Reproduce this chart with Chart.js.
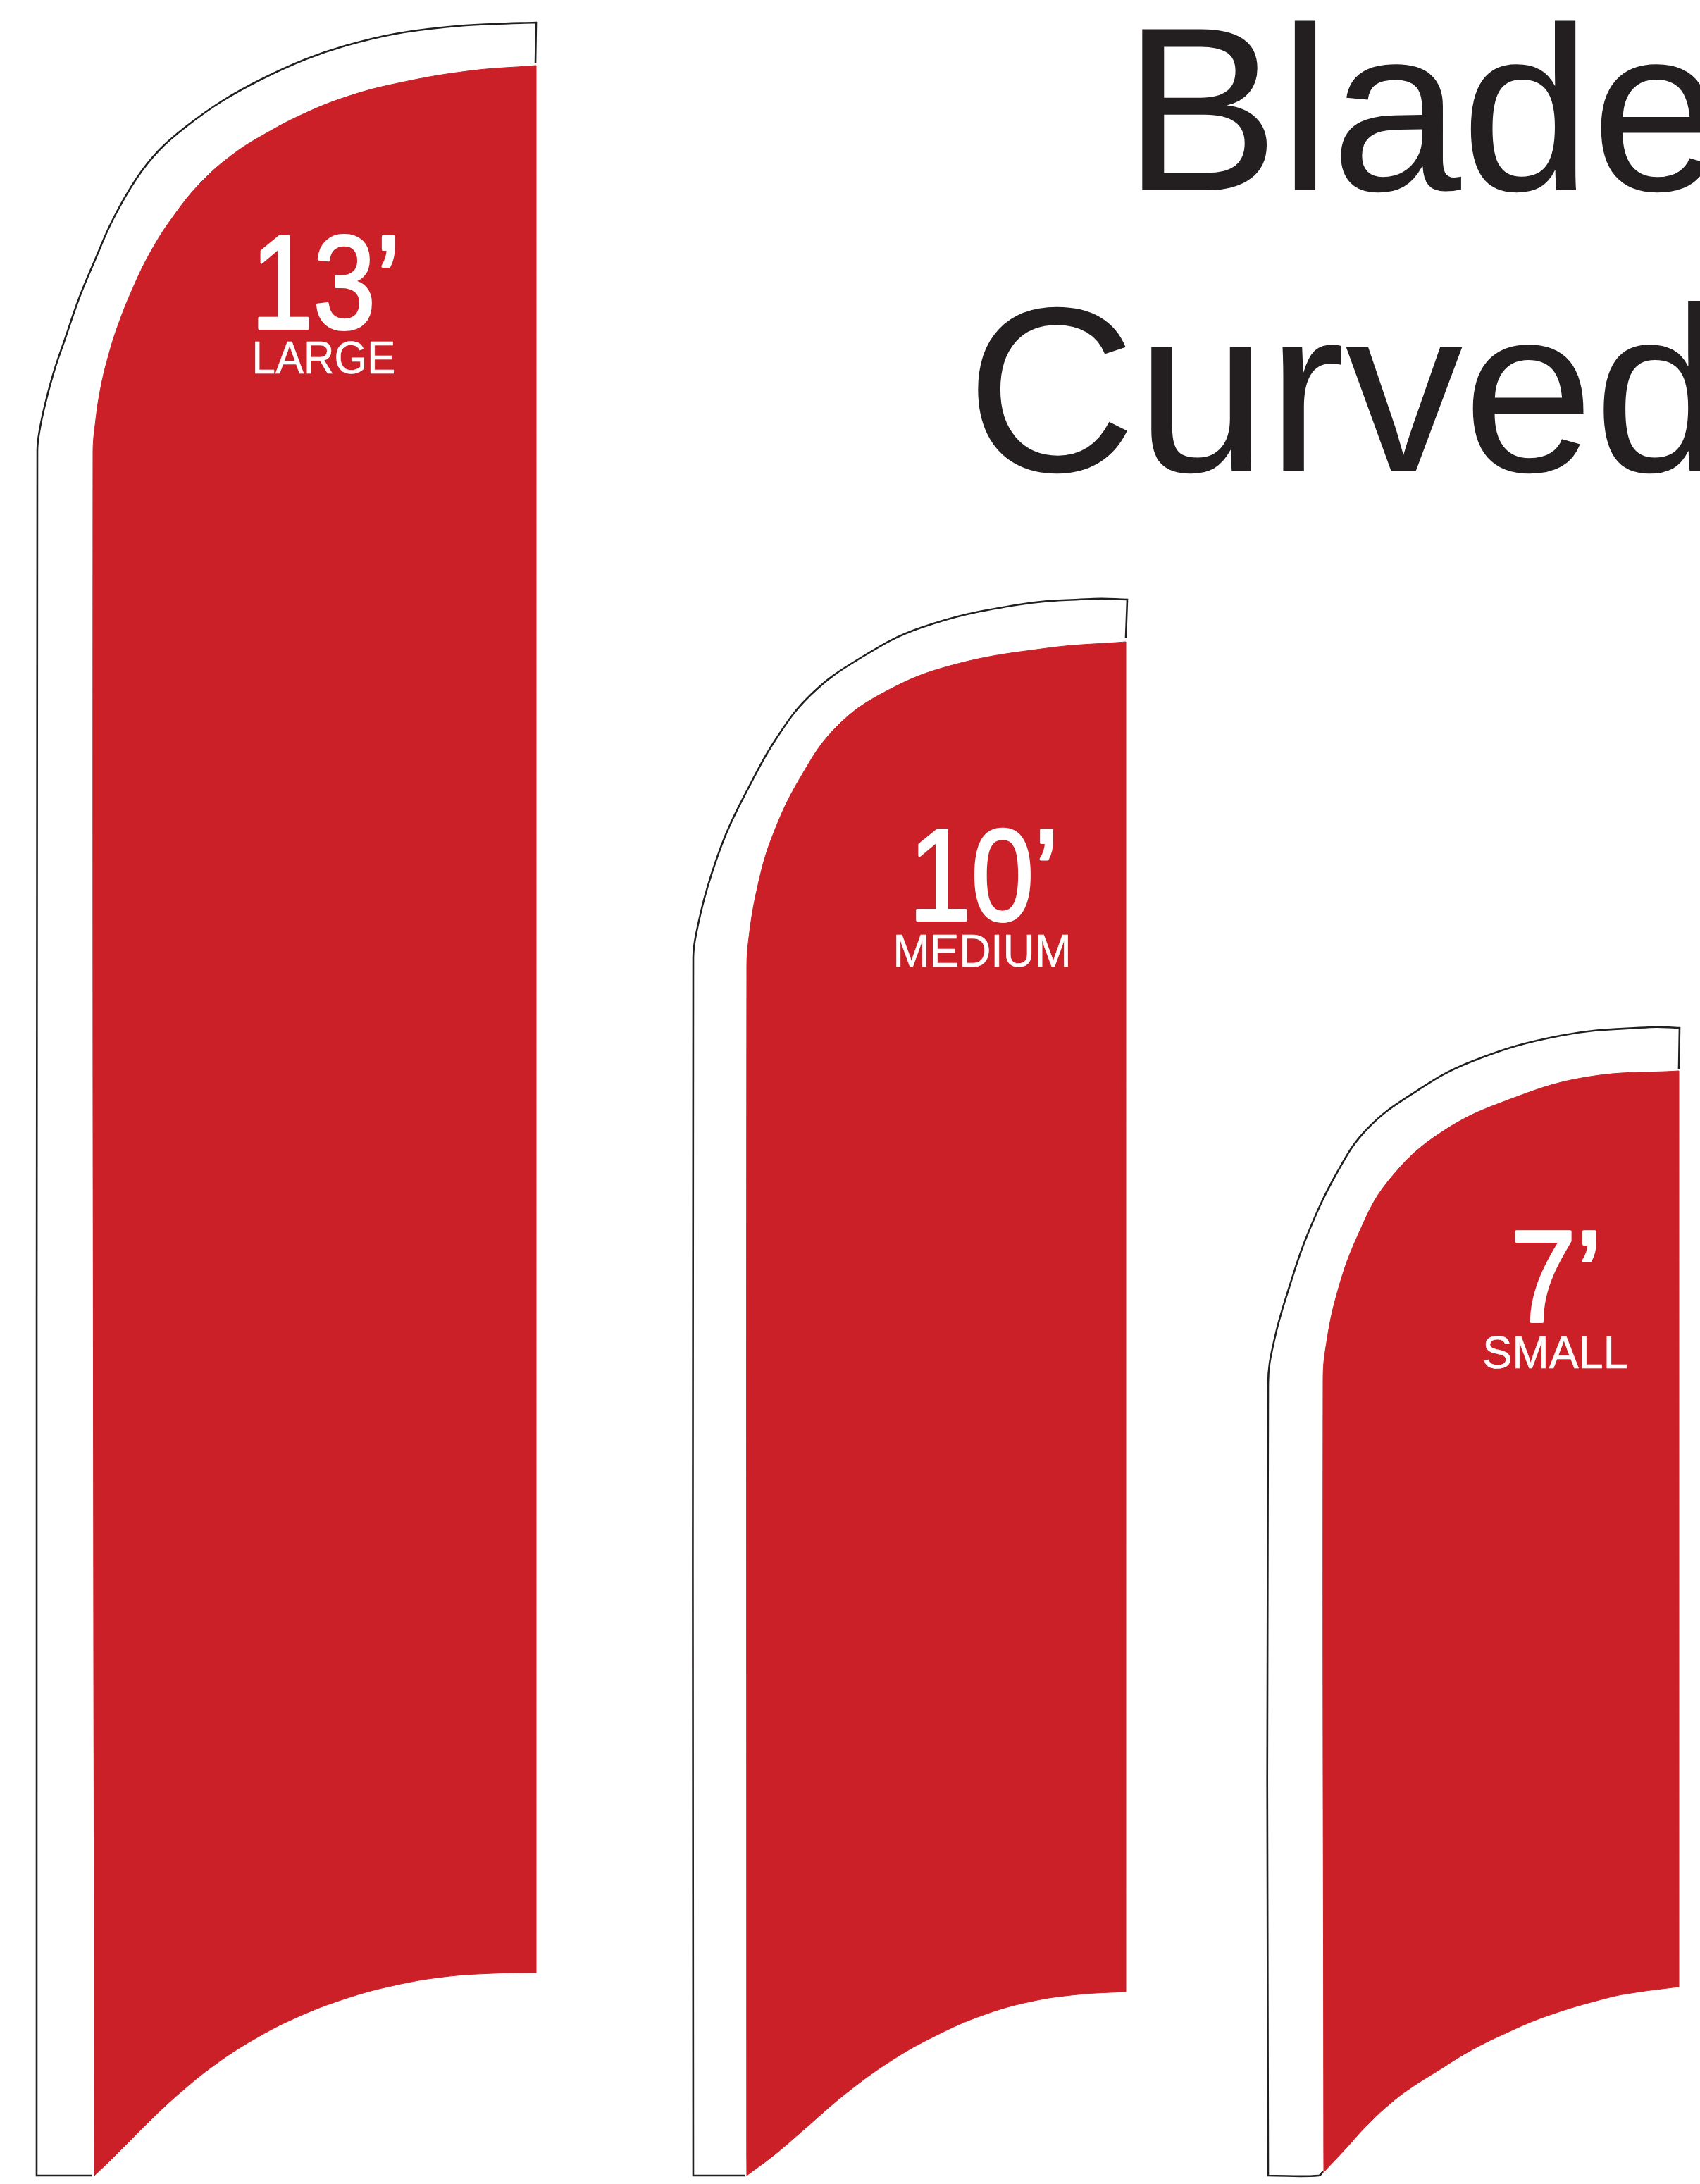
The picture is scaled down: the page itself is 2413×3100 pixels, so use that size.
<!DOCTYPE html>
<html>
<head>
<meta charset="utf-8">
<script src="https://cdn.jsdelivr.net/npm/chart.js@4.4.1/dist/chart.umd.min.js"></script>
<style>
html, body { margin: 0; padding: 0; background: #fff; }
#wrap { width: 2413px; height: 3100px; }
</style>
</head>
<body>
<div id="wrap"><canvas id="flags_canvas" width="2413" height="3100"></canvas></div>
<script>
var titleLines = ['Blade', 'Curved'];
var flagSizes = ['13\u2019', '10\u2019', '7\u2019'];
var flagNames = ['LARGE', 'MEDIUM', 'SMALL'];

// [x, y] in picture pixels, y grows downward. Corners are listed twice so the spline stays sharp there.
var largeOutline = [[760,90],[761,32],[761,32],[700,34],[638,38],[561,48],[490,65],[434,84],[372,112],[316,143],[265,179],[226,213],[194,253],[160,312],[134,371],[112,424],[92,482],[77,526],[64,574],[56,612],[53,640],[52,3088],[52,3088],[130,3088]];
var largeBlade = [[761,93],[761,93],[761,2800],[761,2800],[700,2801],[630,2806],[560,2818],[490,2837],[420,2864],[360,2895],[306,2930],[255,2971],[214,3009],[180,3043],[155,3068],[134,3088],[134,3088],[132,643],[136,595],[143,550],[153,508],[167,463],[189,408],[214,357],[246,307],[286,258],[332,218],[378,189],[430,162],[490,138],[560,119],[663,101],[761,93]];

var mediumOutline = [[1598,905],[1600,851],[1600,851],[1553,850],[1441,859],[1307,891],[1218,936],[1151,986],[1102,1048],[1062,1119],[1030,1185],[1004,1260],[988,1326],[984,1360],[984,3088],[984,3088],[1057,3088]];
var mediumBlade = [[1598,911],[1598,911],[1598,2827],[1598,2827],[1530,2831],[1463,2841],[1396,2860],[1329,2889],[1265,2925],[1200,2972],[1142,3022],[1100,3058],[1060,3088],[1060,3088],[1060,1384],[1062,1339],[1075,1260],[1097,1185],[1137,1102],[1188,1031],[1258,981],[1352,944],[1486,920],[1598,911]];

var smallOutline = [[2383,1517],[2384,1459],[2384,1459],[2342,1458],[2215,1470],[2088,1507],[2004,1553],[1940,1603],[1898,1664],[1856,1752],[1830,1827],[1809,1901],[1800,1964],[1800,3088],[1800,3088],[1872,3088],[1878,3082]];
var smallBlade = [[2383,1520],[2383,1520],[2383,2820],[2383,2820],[2322,2828],[2281,2836],[2197,2861],[2135,2887],[2085,2912],[2043,2938],[2002,2964],[1972,2987],[1939,3018],[1910,3050],[1879,3083],[1879,3083],[1878,1964],[1881,1918],[1898,1835],[1928,1752],[1970,1677],[2046,1607],[2152,1557],[2257,1528],[2383,1520]];

var bladeRed = '#CB2027';
var inkColor = '#231F20';
var fontFamily = '"Liberation Sans", Arial, Helvetica, sans-serif';

// where the texts sit: ink left / right edge, baseline, font size, extra stroke
var titleLayout = [
    { left: 1620, base: 270, size: 332 },
    { left: 1387, base: 669, size: 334 }
];
var labelLayout = [
    { num: { left: 366, right: 561, base: 466, size: 189, bold: 4 }, name: { left: 362, right: 559, base: 530, size: 64, bold: 0.6 } },
    { num: { left: 1300, right: 1495, base: 1306, size: 186, bold: 4 }, name: { left: 1272, right: 1516, base: 1372, size: 65, bold: 0.6 } },
    { num: { left: 2150, right: 2266, base: 1876, size: 186, bold: 4 }, name: { left: 2106, right: 2309, base: 1942, size: 65, bold: 0.6 } }
];

function drawFitted(chart, text, box, color) {
    var ctx = chart.ctx;
    var xs = chart.scales.x, ys = chart.scales.y;
    var left = xs.getPixelForValue(box.left);
    var right = xs.getPixelForValue(box.right);
    var base = ys.getPixelForValue(box.base);
    ctx.save();
    ctx.font = box.size + 'px ' + fontFamily;
    ctx.textAlign = 'left';
    ctx.textBaseline = 'alphabetic';
    var m = ctx.measureText(text);
    var ink = m.actualBoundingBoxLeft + m.actualBoundingBoxRight + box.bold;
    var sx = (right - left) / ink;
    ctx.translate(left, base);
    ctx.scale(sx, 1);
    ctx.fillStyle = color;
    ctx.fillText(text, m.actualBoundingBoxLeft + box.bold / 2, 0);
    if (box.bold) {
        ctx.strokeStyle = color;
        ctx.lineWidth = box.bold;
        ctx.lineJoin = 'round';
        ctx.strokeText(text, m.actualBoundingBoxLeft + box.bold / 2, 0);
    }
    ctx.restore();
}

function drawPlain(chart, text, box, color) {
    var ctx = chart.ctx;
    var left = chart.scales.x.getPixelForValue(box.left);
    var base = chart.scales.y.getPixelForValue(box.base);
    ctx.save();
    ctx.font = box.size + 'px ' + fontFamily;
    ctx.textAlign = 'left';
    ctx.textBaseline = 'alphabetic';
    var m = ctx.measureText(text);
    ctx.fillStyle = color;
    ctx.fillText(text, left + m.actualBoundingBoxLeft, base);
    ctx.restore();
}

var flagText = {
    id: 'flagText',
    afterDatasetsDraw: function(chart) {
        titleLines.forEach(function(line, i) {
            drawPlain(chart, line, titleLayout[i], inkColor);
        });
        flagSizes.forEach(function(sz, i) {
            drawFitted(chart, sz, labelLayout[i].num, '#fff');
            drawFitted(chart, flagNames[i], labelLayout[i].name, '#fff');
        });
    }
};

function outlineSet(pts) {
    return { data: pts, order: 1, fill: false, borderColor: inkColor, borderWidth: 2.6, pointRadius: 0, tension: 0.4 };
}
function bladeSet(pts) {
    return { data: pts, order: 0, fill: 'shape', backgroundColor: bladeRed, borderColor: bladeRed, borderWidth: 1, pointRadius: 0, tension: 0.4 };
}

function initChart() {
    var ctx = document.getElementById('flags_canvas');
    new Chart(ctx, {
        type: 'scatter',
        data: {
            datasets: [
                outlineSet(largeOutline), bladeSet(largeBlade),
                outlineSet(mediumOutline), bladeSet(mediumBlade),
                outlineSet(smallOutline), bladeSet(smallBlade)
            ]
        },
        options: {
            responsive: false,
            devicePixelRatio: 1,
            animation: false,
            events: [],
            showLine: true,
            layout: { padding: 0 },
            scales: {
                x: { type: 'linear', min: 0, max: 2413, display: false },
                y: { type: 'linear', min: 0, max: 3100, reverse: true, display: false }
            },
            plugins: {
                legend: { display: false },
                tooltip: { enabled: false }
            }
        },
        plugins: [flagText]
    });
}

initChart();
</script>
</body>
</html>
